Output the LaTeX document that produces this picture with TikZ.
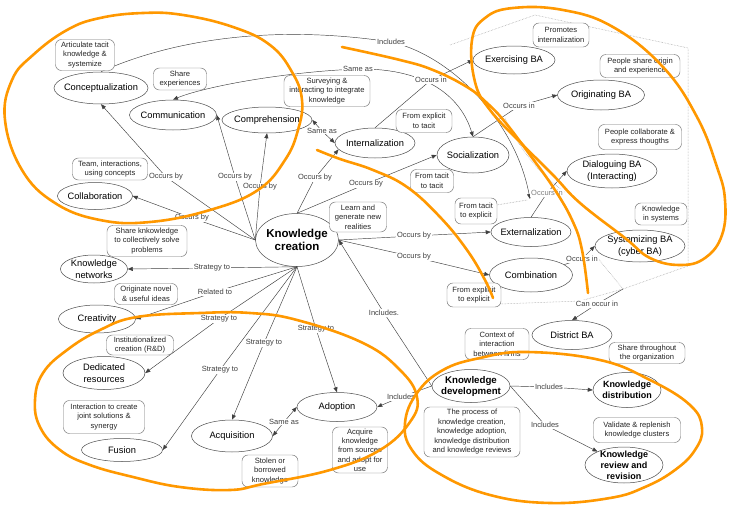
\documentclass[tikz,border=0pt]{standalone}
\usepackage{fontspec}
\setmainfont{Liberation Sans}
\usetikzlibrary{shapes.geometric,arrows.meta}
\definecolor{korange}{RGB}{255,152,0}
\newcommand\cnode[6][]{%
  \node[kel, minimum width=#4pt, minimum height=#5pt] (#2) at (#3) {};%
  \node[keltext,#1] at (#2) {#6};}
\begin{document}
\begin{tikzpicture}[x=1pt,y=-1pt,
  kel/.style={draw=black!70, line width=0.5pt, ellipse, inner sep=0pt, fill=white},
  keltext/.style={font=\fontsize{9.3}{12}\selectfont, align=center, inner sep=0pt},
  kbold/.style={font=\bfseries\fontsize{9}{11.2}\selectfont},
  kbox/.style={draw=black!55, line width=0.45pt, rounded corners=6pt, fill=white, align=center, inner sep=1pt, font=\fontsize{7.6}{9.6}\selectfont, text=black!85},
  lab/.style={fill=white, inner sep=0.8pt, font=\fontsize{7.5}{9}\selectfont, text=black!75},
  edge/.style={draw=black!75, line width=0.45pt, -{Triangle[length=5pt,width=4pt]}},
  edgeb/.style={draw=black!75, line width=0.45pt, {Triangle[length=5pt,width=4pt]}-{Triangle[length=5pt,width=4pt]}},
  orng/.style={draw=korange, line width=2.6pt, line cap=round, line join=round},
  dots/.style={draw=black!40, densely dotted, line width=0.5pt},
]
\fill[white] (0,0) rectangle (732,506);
\useasboundingbox (0,0) rectangle (732,506);

% grey dotted enclosure of the BA group
\draw[dots] (450,45) -- (535,15) -- (688,48) -- (688,266) -- (623,289) -- (580,301) -- (500,304);
\draw[dots] (596,256) -- (623,289);
\draw[dots] (505,118) .. controls (520,150) and (540,175) .. (565,192);
\draw[dots] (497,205) -- (527,200);

% concept nodes
\cnode{concept}{101,88}{94}{32}{Conceptualization}
\cnode{comm}{173,115}{87}{30}{Communication}
\cnode{comp}{267,120}{90}{26}{Comprehension}
\cnode{int}{375,143}{80}{30}{Internalization}
\cnode{soc}{473,155}{72}{36}{Socialization}
\cnode{exer}{514,60}{82}{28}{Exercising BA}
\cnode{orig}{601,95}{87}{30}{Originating BA}
\cnode{dial}{612,171}{90}{34}{Dialoguing BA\\(Interacting)}
\cnode{ext}{531,232}{80}{29}{Externalization}
\cnode{comb}{531,275}{83}{34}{Combination}
\cnode{sys}{640,246}{90}{32}{Systemizing BA\\(cyber BA)}
\cnode{dist}{572,335}{80}{29}{District BA}
\cnode[font=\bfseries\fontsize{11.5}{13}\selectfont]{kc}{297,240}{83}{53}{Knowledge\\creation}
\cnode{collab}{95,196}{75}{27}{Collaboration}
\cnode{knet}{94,269}{67}{28}{Knowledge\\networks}
\cnode{creat}{97,319}{77}{28}{Creativity}
\cnode{ded}{104,373}{82}{33}{Dedicated\\resources}
\cnode{fus}{122,450}{81}{23}{Fusion}
\cnode{acq}{232,436}{81}{32}{Acquisition}
\cnode{adopt}{337,407}{80}{29}{Adoption}
\cnode[font=\bfseries\fontsize{9.7}{11}\selectfont]{kd}{471,386}{78}{33}{Knowledge\\development}
\cnode[kbold]{kdist}{627,390}{68}{35}{Knowledge\\distribution}
\cnode[kbold]{krev}{624,465}{78}{36}{Knowledge\\review and\\revision}

% label positions
\coordinate (lOB1) at (166,177);
\coordinate (lOB2) at (235,177);
\coordinate (lOB3) at (260,187);
\coordinate (lOB4) at (315,178);
\coordinate (lOB5) at (366,184);
\coordinate (lOB6) at (414,236);
\coordinate (lOB7) at (414,257);
\coordinate (lOB8) at (192,218);
\coordinate (lST1) at (212,268);
\coordinate (lRel) at (215,292);
\coordinate (lST2) at (219,319);
\coordinate (lST3) at (220,370);
\coordinate (lST4) at (264,343);
\coordinate (lST5) at (316,329);
\coordinate (lSA1) at (284,422);
\coordinate (lIN1) at (401,397);
\coordinate (lIN2) at (384,313);
\coordinate (lIN3) at (549,387);
\coordinate (lIN4) at (545,425);
\coordinate (lOI1) at (431,80);
\coordinate (lOI2) at (519,106);
\coordinate (lOI3) at (547,193);
\coordinate (lOI4) at (582,259);
\coordinate (lCO) at (597,304);
\coordinate (lSA2) at (322,131);
\coordinate (lSA3) at (358,69);
\coordinate (lINC) at (391,42);
\coordinate (cGroup) at (623,289);
\coordinate (cIncEnd) at (530,199);

% connectors
\draw[edge] (kc.west) -- (lOB1) -- (concept.south);
\draw[edge] (kc.west) -- (lOB2) -- (comm.east);
\draw[edge] (kc.west) -- (lOB3) -- (comp.south);
\draw[edge] (kc.north) -- (lOB4) -- (int.190);
\draw[edge] (kc.north) -- (lOB5) -- (soc.west);
\draw[edge] (kc.east) -- (lOB6) -- (ext.west);
\draw[edge] (kc.east) -- (lOB7) -- (comb.west);
\draw[edge] (kc.west) -- (lOB8) -- (collab.east);
\draw[edge] (kc.south) -- (lST1) -- (knet.east);
\draw[edge] (kc.south) -- (lRel) -- (creat.east);
\draw[edge] (kc.south) -- (lST2) -- (ded.east);
\draw[edge] (kc.south) -- (lST3) -- (fus.east);
\draw[edge] (kc.south) -- (lST4) -- (acq.north);
\draw[edge] (kc.south) -- (lST5) -- (adopt.north);
\draw[edgeb] (acq.east) -- (lSA1) -- (adopt.west);
\draw[edge] (kd.west) -- (lIN1) -- (adopt.east);
\draw[edge] (kd.west) -- (lIN2) -- (kc.east);
\draw[edge] (kd.east) -- (lIN3) -- (kdist.west);
\draw[edge] (kd.east) -- (lIN4) -- (krev);
\draw[edge] (int.north) -- (lOI1) -- (exer.west);
\draw[edge] (soc.north) -- (lOI2) -- (orig.west);
\draw[edge] (ext.north) -- (lOI3) -- (dial.west);
\draw[edge] (comb) -- (lOI4) -- (sys.west);
\draw[edge] (cGroup) -- (lCO) -- (dist.north);
\draw[edgeb] (comp.east) -- (lSA2) -- (int.west);
\draw[edgeb] (comm.north) .. controls (200,88) and (280,72) .. (lSA3) .. controls (430,68) and (462,100) .. (soc.north);
\draw[edge] (concept.north) .. controls (160,45) and (260,22) .. (lINC) .. controls (450,55) and (515,120) .. (cIncEnd);

% description boxes
\node[kbox, minimum width=59pt, minimum height=31pt] (bArt) at (85,55) {Articulate tacit\\knowledge \&\\systemize};
\node[kbox, minimum width=53pt, minimum height=22pt] (bShare) at (180,79) {Share\\experiences};
\node[kbox, minimum width=86pt, minimum height=31pt] (bSurv) at (327,91) {Surveying \&\\interacting to integrate\\knowledge};
\node[kbox, minimum width=56pt, minimum height=23pt] (bE2T) at (424,121) {From explicit\\to tacit};
\node[kbox, minimum width=43pt, minimum height=23pt] (bT2T) at (432,181) {From tacit\\to tacit};
\node[kbox, minimum width=42pt, minimum height=26pt] (bT2E) at (476,211) {From tacit\\to explicit};
\node[kbox, minimum width=54pt, minimum height=24pt] (bE2E) at (474,295) {From explicit\\to explicit};
\node[kbox, minimum width=56pt, minimum height=24pt] (bProm) at (561,35) {Promotes\\internalization};
\node[kbox, minimum width=80pt, minimum height=23pt] (bPSO) at (640,66) {People share origin\\and experience};
\node[kbox, minimum width=83pt, minimum height=25pt] (bPCE) at (640,137) {People collaborate \&\\express thougths};
\node[kbox, minimum width=52pt, minimum height=22pt] (bKIS) at (661,214) {Knowledge\\in systems};
\node[kbox, minimum width=57pt, minimum height=30pt] (bLearn) at (358,217) {Learn and\\generate new\\realities};
\node[kbox, minimum width=75pt, minimum height=22pt] (bTeam) at (110,169) {Team, interactions,\\using concepts};
\node[kbox, minimum width=80pt, minimum height=31pt] (bSK) at (147,241) {Share knkowledge\\to collectively solve\\problems};
\node[kbox, minimum width=63pt, minimum height=21pt] (bOrig) at (146,294) {Originate novel\\\& useful ideas};
\node[kbox, minimum width=67pt, minimum height=20pt] (bInst) at (140,345) {Institutionalized\\creation (R\&D)};
\node[kbox, minimum width=81pt, minimum height=33pt] (bInter) at (104,417) {Interaction to create\\joint solutions \&\\synergy};
\node[kbox, minimum width=56pt, minimum height=32pt] (bStolen) at (270,471) {Stolen or\\borrowed\\knowledge};
\node[kbox, minimum width=55pt, minimum height=46pt, font=\fontsize{7.6}{9.3}\selectfont] (bAcq) at (360,450) {Acquire\\knowledge\\from sources\\and adopt for\\use};
\node[kbox, minimum width=96pt, minimum height=50pt, font=\fontsize{7.6}{9.5}\selectfont] (bProc) at (472,432) {The process of\\knowledge creation,\\knowledge adoption,\\knowledge distribution\\and knowledge reviews};
\node[kbox, minimum width=64pt, minimum height=31pt] (bCtx) at (497,344) {Context of\\interaction\\between firms};
\node[kbox, minimum width=76pt, minimum height=21pt] (bSTO) at (647,353) {Share throughout\\the organization};
\node[kbox, minimum width=87pt, minimum height=25pt] (bVal) at (637,430) {Validate \& replenish\\knowledge clusters};

% linking phrases
\node[lab] at (lOB1) {Occurs by};
\node[lab] at (lOB2) {Occurs by};
\node[lab] at (lOB3) {Occurs by};
\node[lab] at (lOB4) {Occurs by};
\node[lab] at (lOB5) {Occurs by};
\node[lab] at (lOB6) {Occurs by};
\node[lab] at (lOB7) {Occurs by};
\node[lab] at (lOB8) {Occurs by};
\node[lab] at (lST1) {Strategy to};
\node[lab] at (lRel) {Related to};
\node[lab] at (lST2) {Strategy to};
\node[lab] at (lST3) {Strategy to};
\node[lab] at (lST4) {Strategy to};
\node[lab] at (lST5) {Strategy to};
\node[lab] at (lSA1) {Same as};
\node[lab] at (lIN1) {Includes};
\node[lab] at (lIN2) {Includes.};
\node[lab] at (lIN3) {Includes};
\node[lab] at (lIN4) {Includes};
\node[lab] at (lOI1) {Occurs in};
\node[lab] at (lOI2) {Occurs in};
\node[lab, text=black!50] at (lOI3) {Occurs in};
\node[lab] at (lOI4) {Occurs in};
\node[lab] at (lCO) {Can occur in};
\node[lab] at (lSA2) {Same as};
\node[lab] at (lSA3) {Same as};
\node[lab] at (lINC) {Includes};

% hand-drawn orange marks
\draw[orng] plot[smooth cycle, tension=0.7] coordinates {(5,120) (12,80) (33,55) (67,30) (100,18) (143,13) (183,15) (233,27) (270,45) (292,72) (302,100) (298,130) (285,160) (258,190) (210,210) (150,222) (100,220) (55,203) (22,170)};
\draw[orng] plot[smooth cycle, tension=0.7] coordinates {(35,400) (43,373) (67,350) (100,330) (137,317) (200,313) (250,313) (297,320) (363,343) (400,370) (417,397) (410,422) (380,450) (330,470) (263,484) (230,490) (180,487) (133,477) (90,465) (60,450) (40,427)};
\draw[orng] plot[smooth cycle, tension=0.7] coordinates {(405,423) (417,393) (443,370) (480,358) (527,352) (600,360) (650,380) (690,405) (702,428) (695,450) (675,470) (645,487) (610,498) (550,503) (490,495) (440,474) (412,450)};
\draw[orng] plot[smooth cycle, tension=0.7] coordinates {(472,40) (485,18) (513,8) (563,10) (613,27) (663,67) (697,117) (717,167) (725,200) (722,235) (705,258) (680,265) (650,258) (625,238) (580,203) (553,175) (520,142) (490,110) (475,82)};
\draw[orng] plot[smooth, tension=0.7] coordinates {(342,47) (400,60) (433,70) (467,87) (487,103) (505,122) (530,155) (555,190) (573,222) (582,250) (588,293)};
\draw[orng] plot[smooth, tension=0.7] coordinates {(317,150) (340,159) (373,170) (407,187) (440,217) (467,250) (485,280) (493,298)};
\end{tikzpicture}
\end{document}
